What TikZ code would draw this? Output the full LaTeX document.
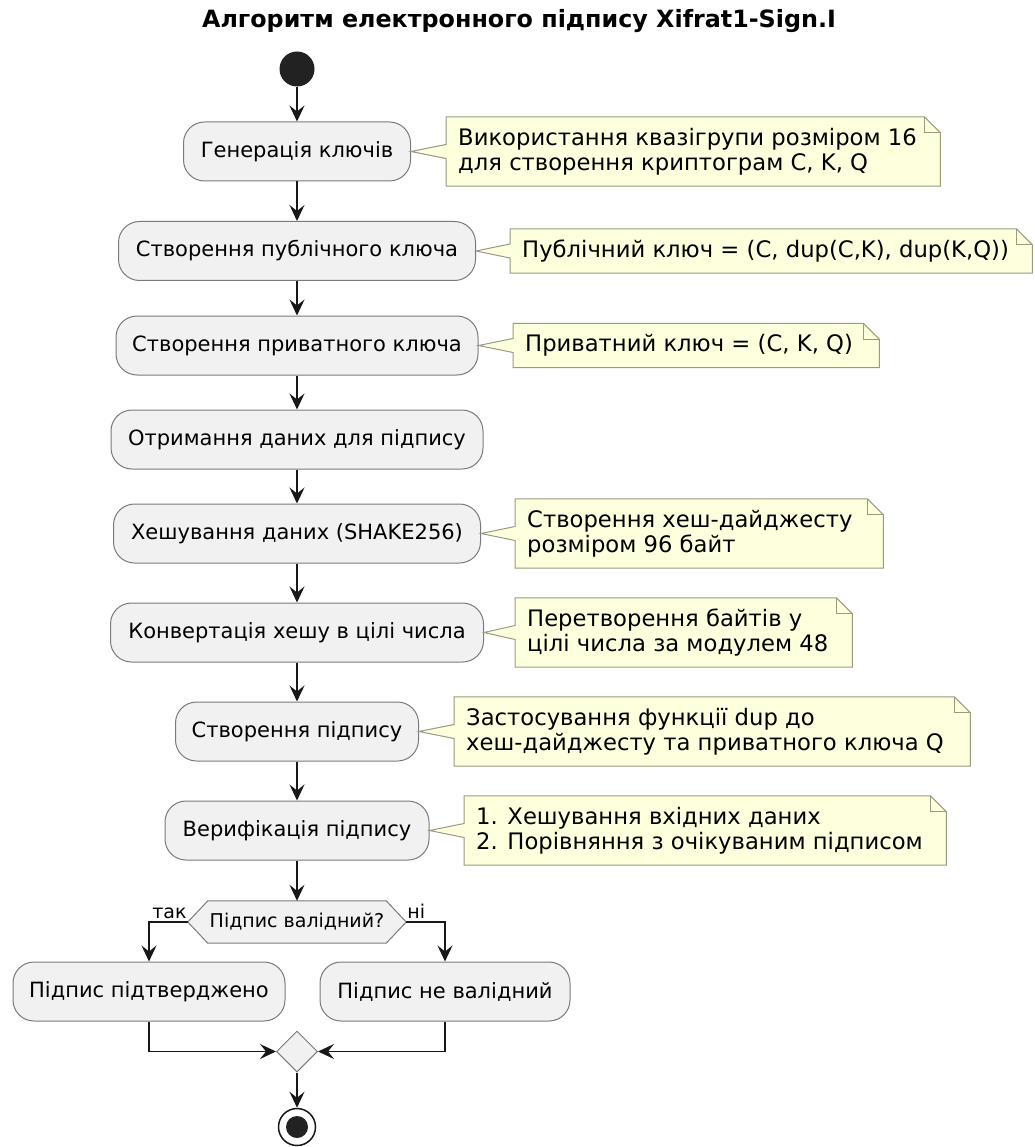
\documentclass[tikz,border=0pt]{standalone}
\usepackage{fontspec}
\setmainfont{DejaVu Sans}
\usetikzlibrary{arrows.meta,calc,shapes.geometric}
\definecolor{boxfill}{HTML}{F1F1F1}
\definecolor{boxline}{HTML}{7A7A7A}
\definecolor{notefill}{HTML}{FEFFDD}
\definecolor{noteline}{HTML}{9A9A80}
\definecolor{arrowc}{HTML}{181818}
\definecolor{dotc}{HTML}{222222}
\newcommand\actfont{\fontsize{21pt}{25pt}\selectfont}
\newcommand\notefont{\fontsize{22.7pt}{25.5pt}\selectfont}
\newcommand\smallfont{\fontsize{19pt}{22pt}\selectfont}
\newcommand\ttlfont{\fontsize{23.8pt}{28pt}\selectfont\bfseries}
\newcommand\mknote[7]{%
  \node[inner sep=0pt, minimum width=#3pt, minimum height=#5pt, anchor=west] (#1) at (#2,#4) {};
  \draw[noteshape] (#1.north west) -- ($(#1.north east)+(-16,0)$) -- ($(#1.north east)+(0,16)$) -- (#1.south east) -- (#1.south west) -- ($(#1.west)+(0,7)$) -- (#6.east) -- ($(#1.west)+(0,-7)$) -- cycle;
  \draw[noteshape, fill=none] ($(#1.north east)+(-16,0)$) -- ($(#1.north east)+(-16,16)$) -- ($(#1.north east)+(0,16)$);
  \node[notetext] (#1t) at ($(#1.west)+(12,0)$) {#7};
}
\begin{document}
\begin{tikzpicture}[x=1pt,y=-1pt,
  act/.style={draw=boxline, fill=boxfill, rounded corners=21pt, minimum height=59pt, line width=1pt, font=\actfont, inner sep=0pt},
  flow/.style={draw=arrowc, line width=1.4pt, -{Stealth[length=16pt,width=15pt,inset=6pt]}},
  noteshape/.style={draw=noteline, fill=notefill, line width=1pt, line join=miter},
  notetext/.style={font=\notefont, align=left, inner sep=0pt, anchor=west},
  lbl/.style={font=\smallfont, inner sep=1pt},
]
\useasboundingbox (0,0) rectangle (1034,1147);

\node[font=\ttlfont] (title) at (519,21) {Алгоритм електронного підпису Xifrat1-Sign.I};

\node[circle, fill=dotc, minimum size=35pt, inner sep=0pt] (start) at (297,69) {};

\node[act, minimum width=227pt] (b1) at (297,151.5) {Генерація ключів};
\node[act, minimum width=357pt] (b2) at (297,251) {Створення публічного ключа};
\node[act, minimum width=362pt] (b3) at (297,345.5) {Створення приватного ключа};
\node[act, minimum width=372pt] (b4) at (297,439.5) {Отримання даних для підпису};
\node[act, minimum width=367pt] (b5) at (297,533.5) {Хешування даних (SHAKE256)};
\node[act, minimum width=373pt] (b6) at (297,632.5) {Конвертація хешу в цілі числа};
\node[act, minimum width=243pt] (b7) at (297,731.5) {Створення підпису};
\node[act, minimum width=264pt] (b8) at (297,830.5) {Верифікація підпису};

\node[inner sep=0pt, minimum width=178pt, minimum height=42pt, font=\smallfont] (dec) at (297,922) {};
\coordinate (decL) at ($(dec.west)+(-20,0)$);
\coordinate (decR) at ($(dec.east)+(20,0)$);
\draw[draw=boxline, fill=boxfill, line width=1pt] (dec.north west) -- (dec.north east) -- (decR) -- (dec.south east) -- (dec.south west) -- (decL) -- cycle;
\node[font=\smallfont, inner sep=0pt] (dect) at (dec) {Підпис валідний?};

\node[act, minimum width=272pt] (ok) at (149,991.5) {Підпис підтверджено};
\node[act, minimum width=250pt] (bad) at (445,991.5) {Підпис не валідний};

\node[diamond, draw=boxline, fill=boxfill, line width=1pt, minimum width=41pt, minimum height=41pt, inner sep=0pt] (merge) at (297,1051.5) {};

\node[circle, draw=arrowc, fill=white, line width=1.5pt, minimum size=37pt, inner sep=0pt] (end) at (297,1127) {};
\node[circle, fill=dotc, minimum size=22pt, inner sep=0pt] (endin) at (end) {};

\mknote{n1}{446}{494}{151.5}{69}{b1}{Використання квазігрупи розміром 16\\для створення криптограм C, K, Q}
\mknote{n2}{510}{522}{251}{44}{b2}{Публічний ключ = (C, dup(C,K), dup(K,Q))}
\mknote{n3}{513}{366}{345.5}{44}{b3}{Приватний ключ = (C, K, Q)}
\mknote{n5}{515}{368}{533.5}{69}{b5}{Створення хеш-дайджесту\\розміром 96 байт}
\mknote{n6}{515}{337}{632.5}{69}{b6}{Перетворення байтів у\\цілі числа за модулем 48}
\mknote{n7}{454}{516}{731.5}{69}{b7}{Застосування функції dup до\\хеш-дайджесту та приватного ключа Q}
\mknote{n8}{464}{482}{830.5}{69}{b8}{1. Хешування вхідних даних\\2. Порівняння з очікуваним підписом}

\draw[flow] (start) -- (b1);
\draw[flow] (b1) -- (b2);
\draw[flow] (b2) -- (b3);
\draw[flow] (b3) -- (b4);
\draw[flow] (b4) -- (b5);
\draw[flow] (b5) -- (b6);
\draw[flow] (b6) -- (b7);
\draw[flow] (b7) -- (b8);
\draw[flow] (b8) -- (dec.north);
\draw[flow] (decL) -| (ok.north);
\draw[flow] (decR) -| (bad.north);
\node[lbl, anchor=south east] (lyes) at ($(decL)+(0,-2)$) {так};
\node[lbl, anchor=south west] (lno) at ($(decR)+(0,-2)$) {ні};
\draw[flow] (ok.south) |- (merge.west);
\draw[flow] (bad.south) |- (merge.east);
\draw[flow] (merge) -- (end);
\end{tikzpicture}
\end{document}
